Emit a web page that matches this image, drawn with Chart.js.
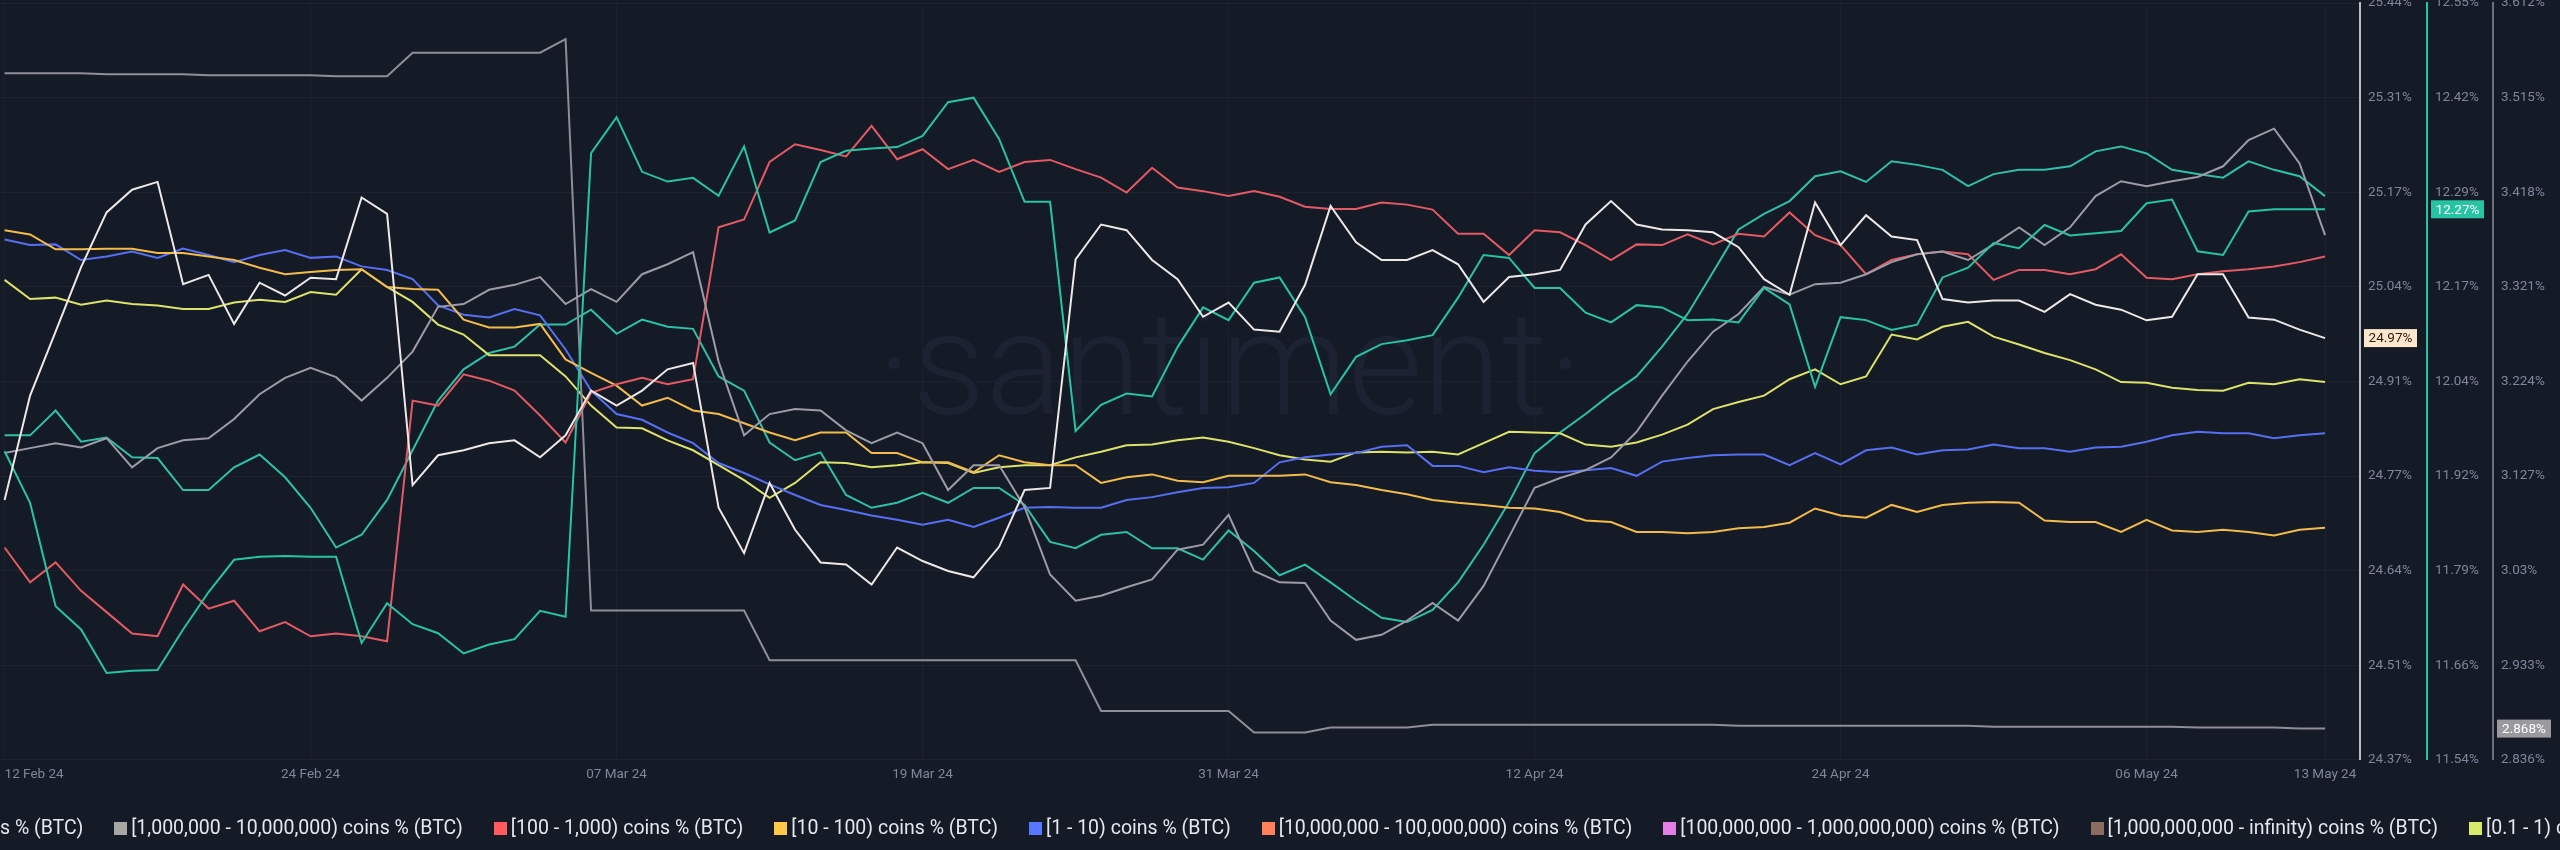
<!DOCTYPE html>
<html>
<head>
<meta charset="utf-8">
<script src="https://cdn.jsdelivr.net/npm/chart.js@4.4.1/dist/chart.umd.min.js"></script>
<style>
  html, body { margin: 0; padding: 0; background: #151a27; overflow: hidden; }
  #wrap { position: relative; width: 2560px; height: 850px; overflow: hidden; background: #151a27; }
  #chart { position: absolute; left: 0; top: 0; }
  #legend { position: absolute; top: 817px; left: 0; display: flex; white-space: nowrap;
            font: 19.5px Roboto, sans-serif; color: #e6e7eb; line-height: 22px; }
  .item { display: flex; align-items: center; margin-right: 31px; }
  .sq { width: 13px; height: 13px; margin-right: 4px; flex: none; }
</style>
</head>
<body>
<div id="wrap">
  <canvas id="chart" width="2560" height="850"></canvas>
  <div id="legend"></div>
</div>
<script>
// x axis: one point per day, 12 Feb 24 -> 13 May 24
const tickDays = [0, 12, 24, 36, 48, 60, 72, 84, 91];
const tickLabels = ['12 Feb 24', '24 Feb 24', '07 Mar 24', '19 Mar 24', '31 Mar 24', '12 Apr 24', '24 Apr 24', '06 May 24', '13 May 24'];

// [1,000 - 10,000) -> left axis (24.37% .. 25.44%)
const white = [24.740, 24.887, 24.977, 25.068, 25.145, 25.177, 25.188, 25.044, 25.057, 24.988, 25.046, 25.028, 25.053, 25.051, 25.166, 25.143,
  24.761, 24.803, 24.810, 24.820, 24.824, 24.800, 24.831, 24.894, 24.873, 24.894, 24.924, 24.933, 24.729, 24.665, 24.764, 24.698,
  24.652, 24.649, 24.621, 24.673, 24.654, 24.640, 24.631, 24.674, 24.754, 24.757, 25.079, 25.128, 25.120, 25.078, 25.051, 24.998,
  25.018, 24.980, 24.977, 25.043, 25.154, 25.103, 25.078, 25.078, 25.092, 25.072, 25.019, 25.054, 25.058, 25.064, 25.128, 25.161,
  25.128, 25.121, 25.120, 25.117, 25.096, 25.051, 25.029, 25.159, 25.099, 25.141, 25.111, 25.106, 25.023, 25.018, 25.021, 25.021,
  25.005, 25.030, 25.015, 25.008, 24.993, 24.998, 25.058, 25.058, 24.997, 24.994, 24.980, 24.968];

// [10,000 - 100,000) -> middle axis (11.54% .. 12.55%)
const tealA = [11.949, 11.880, 11.742, 11.711, 11.653, 11.656, 11.657, 11.711, 11.761, 11.804, 11.808, 11.809, 11.808, 11.808, 11.693, 11.746,
  11.718, 11.706, 11.679, 11.691, 11.698, 11.736, 11.728, 12.347, 12.395, 12.322, 12.309, 12.314, 12.290, 12.356, 12.241, 12.257,
  12.335, 12.350, 12.353, 12.355, 12.370, 12.415, 12.421, 12.366, 12.282, 12.282, 11.976, 12.011, 12.026, 12.022, 12.088, 12.141,
  12.124, 12.174, 12.181, 12.128, 12.025, 12.075, 12.092, 12.097, 12.104, 12.154, 12.211, 12.207, 12.167, 12.167, 12.134, 12.121,
  12.144, 12.141, 12.124, 12.125, 12.121, 12.167, 12.145, 12.035, 12.128, 12.124, 12.111, 12.118, 12.181, 12.194, 12.227, 12.220,
  12.251, 12.237, 12.240, 12.243, 12.280, 12.285, 12.216, 12.211, 12.269, 12.272, 12.272, 12.272];

// [1,000,000 - 10,000,000) -> right axis (2.836% .. 3.612%)
const greyStep = [3.540, 3.540, 3.540, 3.540, 3.539, 3.539, 3.539, 3.539, 3.538, 3.538, 3.538, 3.538, 3.538, 3.537, 3.537, 3.537,
  3.561, 3.561, 3.561, 3.561, 3.561, 3.561, 3.575, 2.989, 2.989, 2.989, 2.989, 2.989, 2.989, 2.989, 2.938, 2.938,
  2.938, 2.938, 2.938, 2.938, 2.938, 2.938, 2.938, 2.938, 2.938, 2.938, 2.938, 2.886, 2.886, 2.886, 2.886, 2.886,
  2.886, 2.864, 2.864, 2.864, 2.869, 2.869, 2.869, 2.869, 2.872, 2.872, 2.872, 2.872, 2.872, 2.872, 2.872, 2.872,
  2.872, 2.872, 2.872, 2.872, 2.871, 2.871, 2.871, 2.871, 2.871, 2.871, 2.871, 2.871, 2.871, 2.871, 2.870, 2.870,
  2.870, 2.870, 2.870, 2.870, 2.870, 2.870, 2.869, 2.869, 2.869, 2.869, 2.868, 2.868];

// the rest share the hidden scale of the left axis
const greySmooth = [24.806, 24.813, 24.820, 24.814, 24.827, 24.786, 24.813, 24.824, 24.827, 24.854, 24.889, 24.912, 24.926, 24.913, 24.880, 24.912,
  24.949, 25.012, 25.016, 25.036, 25.043, 25.054, 25.016, 25.037, 25.019, 25.058, 25.072, 25.089, 24.935, 24.831, 24.861, 24.868,
  24.866, 24.838, 24.820, 24.835, 24.820, 24.754, 24.789, 24.789, 24.730, 24.635, 24.598, 24.605, 24.617, 24.628, 24.670, 24.677,
  24.719, 24.640, 24.624, 24.623, 24.570, 24.543, 24.550, 24.570, 24.595, 24.570, 24.619, 24.688, 24.757, 24.771, 24.782, 24.800,
  24.836, 24.887, 24.935, 24.977, 25.002, 25.040, 25.029, 25.044, 25.046, 25.058, 25.075, 25.086, 25.090, 25.078, 25.100, 25.124,
  25.099, 25.124, 25.168, 25.189, 25.182, 25.189, 25.195, 25.210, 25.247, 25.263, 25.214, 25.113];

const red = [24.673, 24.624, 24.652, 24.612, 24.582, 24.552, 24.548, 24.621, 24.587, 24.598, 24.555, 24.568, 24.548, 24.552, 24.548, 24.541,
  24.880, 24.873, 24.917, 24.908, 24.894, 24.859, 24.821, 24.891, 24.903, 24.912, 24.903, 24.910, 25.124, 25.135, 25.216, 25.241,
  25.233, 25.224, 25.267, 25.220, 25.234, 25.206, 25.219, 25.202, 25.216, 25.219, 25.206, 25.194, 25.173, 25.208, 25.180, 25.175,
  25.168, 25.175, 25.167, 25.153, 25.150, 25.150, 25.159, 25.156, 25.149, 25.115, 25.115, 25.085, 25.120, 25.117, 25.099, 25.078,
  25.100, 25.099, 25.114, 25.100, 25.115, 25.111, 25.145, 25.113, 25.099, 25.058, 25.078, 25.086, 25.090, 25.086, 25.050, 25.064,
  25.064, 25.058, 25.065, 25.086, 25.053, 25.051, 25.058, 25.062, 25.065, 25.069, 25.075, 25.083];

const orange = [25.120, 25.114, 25.093, 25.093, 25.094, 25.094, 25.088, 25.088, 25.083, 25.078, 25.067, 25.058, 25.061, 25.064, 25.065, 25.040,
  25.037, 25.036, 24.994, 24.983, 24.983, 24.988, 24.938, 24.919, 24.901, 24.873, 24.884, 24.866, 24.861, 24.848, 24.835, 24.824,
  24.835, 24.835, 24.806, 24.806, 24.793, 24.793, 24.779, 24.803, 24.793, 24.789, 24.789, 24.764, 24.772, 24.776, 24.767, 24.765,
  24.774, 24.774, 24.774, 24.776, 24.765, 24.761, 24.754, 24.748, 24.740, 24.736, 24.733, 24.729, 24.728, 24.723, 24.711, 24.709,
  24.695, 24.695, 24.693, 24.695, 24.700, 24.702, 24.708, 24.728, 24.718, 24.715, 24.733, 24.723, 24.733, 24.736, 24.737, 24.736,
  24.711, 24.709, 24.709, 24.695, 24.712, 24.697, 24.695, 24.698, 24.695, 24.690, 24.698, 24.701];

const blue = [25.107, 25.099, 25.100, 25.078, 25.083, 25.090, 25.081, 25.094, 25.085, 25.075, 25.085, 25.092, 25.081, 25.083, 25.069, 25.064,
  25.051, 25.014, 25.001, 24.997, 25.009, 25.000, 24.952, 24.894, 24.861, 24.853, 24.835, 24.820, 24.792, 24.778, 24.762, 24.747,
  24.733, 24.726, 24.718, 24.712, 24.705, 24.712, 24.702, 24.715, 24.729, 24.730, 24.729, 24.729, 24.740, 24.744, 24.751, 24.757,
  24.758, 24.764, 24.793, 24.800, 24.804, 24.806, 24.815, 24.817, 24.788, 24.788, 24.779, 24.786, 24.781, 24.779, 24.782, 24.785,
  24.774, 24.794, 24.799, 24.803, 24.804, 24.804, 24.789, 24.806, 24.790, 24.810, 24.814, 24.804, 24.810, 24.811, 24.818, 24.813,
  24.813, 24.808, 24.814, 24.815, 24.822, 24.831, 24.836, 24.834, 24.834, 24.827, 24.831, 24.834];

const lime = [25.050, 25.023, 25.025, 25.015, 25.021, 25.016, 25.014, 25.009, 25.009, 25.018, 25.022, 25.019, 25.033, 25.029, 25.065, 25.040,
  25.019, 24.987, 24.973, 24.944, 24.944, 24.944, 24.914, 24.873, 24.842, 24.841, 24.824, 24.810, 24.789, 24.768, 24.743, 24.764,
  24.793, 24.792, 24.786, 24.789, 24.793, 24.792, 24.778, 24.786, 24.789, 24.789, 24.800, 24.808, 24.817, 24.818, 24.824, 24.828,
  24.822, 24.813, 24.803, 24.797, 24.794, 24.807, 24.808, 24.807, 24.808, 24.804, 24.820, 24.836, 24.835, 24.834, 24.818, 24.815,
  24.821, 24.832, 24.846, 24.868, 24.878, 24.887, 24.910, 24.924, 24.903, 24.914, 24.973, 24.966, 24.984, 24.991, 24.970, 24.959,
  24.947, 24.937, 24.924, 24.906, 24.905, 24.898, 24.895, 24.894, 24.905, 24.903, 24.910, 24.906];

const tealB = [24.831, 24.831, 24.866, 24.822, 24.828, 24.800, 24.799, 24.754, 24.754, 24.786, 24.804, 24.772, 24.729, 24.673, 24.691, 24.740,
  24.810, 24.880, 24.924, 24.947, 24.956, 24.987, 24.987, 25.008, 24.974, 24.994, 24.984, 24.981, 24.914, 24.894, 24.821, 24.796,
  24.807, 24.747, 24.729, 24.736, 24.750, 24.736, 24.757, 24.757, 24.733, 24.681, 24.672, 24.691, 24.695, 24.672, 24.672, 24.656,
  24.697, 24.668, 24.634, 24.649, 24.624, 24.598, 24.574, 24.568, 24.585, 24.624, 24.677, 24.737, 24.806, 24.835, 24.861, 24.889,
  24.914, 24.956, 25.002, 25.061, 25.121, 25.143, 25.161, 25.196, 25.203, 25.188, 25.217, 25.212, 25.205, 25.182, 25.199, 25.205,
  25.205, 25.210, 25.231, 25.238, 25.228, 25.205, 25.199, 25.194, 25.217, 25.205, 25.196, 25.168];

// legend order, left to right
const series = [
  { label: '[1,000 - 10,000) coins % (BTC)', data: white, color: '#ece8e6', axis: 'y1' },
  { label: '[10,000 - 100,000) coins % (BTC)', data: tealA, color: '#26c4a2', axis: 'y2' },
  { label: '[100,000 - 1,000,000) coins % (BTC)', data: greySmooth, color: '#9c9ba6', axis: 'y1' },
  { label: '[1,000,000 - 10,000,000) coins % (BTC)', data: greyStep, color: '#8e8e97', axis: 'y3', legendColor: '#a8a5a5' },
  { label: '[100 - 1,000) coins % (BTC)', data: red, color: '#e45a63', axis: 'y1', legendColor: '#ff5a5f' },
  { label: '[10 - 100) coins % (BTC)', data: orange, color: '#f2bb4a', axis: 'y1', legendColor: '#ffc947' },
  { label: '[1 - 10) coins % (BTC)', data: blue, color: '#566ff0', axis: 'y1', legendColor: '#5877ff' },
  { label: '[10,000,000 - 100,000,000) coins % (BTC)', data: [], color: '#ff8059', axis: 'y1' },
  { label: '[100,000,000 - 1,000,000,000) coins % (BTC)', data: [], color: '#e47ee6', axis: 'y1' },
  { label: '[1,000,000,000 - infinity) coins % (BTC)', data: [], color: '#8b6c62', axis: 'y1' },
  { label: '[0.1 - 1) coins % (BTC)', data: lime, color: '#dde26a', axis: 'y1', legendColor: '#d9ea6a' },
  { label: '[0.01 - 0.1) coins % (BTC)', data: tealB, color: '#2fc0a8', axis: 'y1' }
];

const tickColor = '#80859a';
const font = { family: 'Roboto', size: 13.5 };

// evenly spaced ticks between min and max, like the reference axes
function evenTicks(n) {
  return s => {
    const out = [];
    for (let k = 0; k < n; k++) out.push({ value: s.min + (s.max - s.min) * k / (n - 1) });
    s.ticks = out;
  };
}
function rightAxis(min, max, width, borderColor, fmt, weight, showGrid) {
  return {
    type: 'linear', position: 'right', weight, min, max,
    afterBuildTicks: evenTicks(9),
    afterFit: s => { s.width = width; s.paddingTop = 0; s.paddingBottom = 0; },
    border: { display: true, color: borderColor, width: 2 },
    grid: { display: showGrid, drawTicks: false, color: 'rgba(255,255,255,0.04)' },
    ticks: { color: tickColor, font, padding: 8, callback: fmt }
  };
}

// watermark
const watermark = {
  id: 'watermark',
  beforeDatasetsDraw(chart) {
    const { ctx, chartArea } = chart;
    ctx.save();
    ctx.font = '300 144px Roboto';
    ctx.fillStyle = '#1d2232';
    ctx.textAlign = 'center';
    ctx.textBaseline = 'alphabetic';
    ctx.fillText('·santiment·', chartArea.left + 1230, 414);
    ctx.restore();
  }
};

// last-value tags on the three visible axes
const tags = {
  id: 'tags',
  afterDraw(chart) {
    const { ctx } = chart;
    const list = [
      { axis: 'y1', value: white[white.length - 1], text: v => v.toFixed(2) + '%', bg: '#fde6cc', fg: '#2b2018', w: 53 },
      { axis: 'y2', value: tealA[tealA.length - 1], text: v => v.toFixed(2) + '%', bg: '#26c4a2', fg: '#ffffff', w: 53 },
      { axis: 'y3', value: greyStep[greyStep.length - 1], text: v => v.toFixed(3) + '%', bg: '#9a9a9e', fg: '#ffffff', w: 54 }
    ];
    ctx.save();
    ctx.font = '13.5px Roboto';
    ctx.textAlign = 'center';
    ctx.textBaseline = 'middle';
    list.forEach(t => {
      const sc = chart.scales[t.axis];
      const y = sc.getPixelForValue(t.value);
      const x = sc.left + 4;
      ctx.fillStyle = t.bg;
      ctx.fillRect(x, y - 9, t.w, 18);
      ctx.fillStyle = t.fg;
      ctx.fillText(t.text(t.value), x + t.w / 2, y + 1);
    });
    ctx.restore();
  }
};

const chart = new Chart(document.getElementById('chart'), {
  type: 'line',
  data: {
    datasets: series.map(s => ({
      label: s.label,
      data: s.data.map((v, i) => ({ x: i, y: v })),
      borderColor: s.color,
      backgroundColor: s.color,
      borderWidth: 2,
      pointRadius: 0,
      tension: 0,
      yAxisID: s.axis
    }))
  },
  options: {
    responsive: false,
    animation: false,
    devicePixelRatio: 1,
    layout: { padding: { top: 3, bottom: 60, left: 0, right: 0 } },
    plugins: { legend: { display: false }, tooltip: { enabled: false } },
    scales: {
      x: {
        type: 'linear', min: -0.18, max: 92.37,
        afterBuildTicks: s => {
          s.ticks = tickDays.map(v => ({ value: v })).concat([{ value: s.max }]);
        },
        afterFit: s => { s.paddingLeft = 0; s.paddingRight = 0; },
        border: { display: false },
        grid: {
          drawTicks: false,
          color: c => (c.index < tickDays.length ? 'rgba(255,255,255,0.03)' : 'rgba(0,0,0,0)')
        },
        ticks: {
          color: tickColor, font, padding: 7, maxRotation: 0, autoSkip: false, align: 'inner',
          callback: (v, i) => tickLabels[i] || ''
        }
      },
      y1: rightAxis(24.374, 25.44, 67, '#bdbac2', v => v.toFixed(2) + '%', 1, true),
      y2: rightAxis(11.537, 12.5474, 66, '#26c4a2', v => v.toFixed(2) + '%', 2, false),
      y3: rightAxis(2.836, 3.612, 67, '#6c6f7c', v => parseFloat(v.toFixed(3)) + '%', 3, false)
    }
  },
  plugins: [watermark, tags]
});

// html legend, cut by the frame like the reference
const legend = document.getElementById('legend');
series.forEach(s => {
  const item = document.createElement('div');
  item.className = 'item';
  const sq = document.createElement('span');
  sq.className = 'sq';
  sq.style.background = s.legendColor || s.color;
  const tx = document.createElement('span');
  tx.textContent = s.label;
  item.appendChild(sq);
  item.appendChild(tx);
  legend.appendChild(item);
});
const anchor = legend.children[3];
legend.style.left = (114 - anchor.offsetLeft) + 'px';
</script>
</body>
</html>
